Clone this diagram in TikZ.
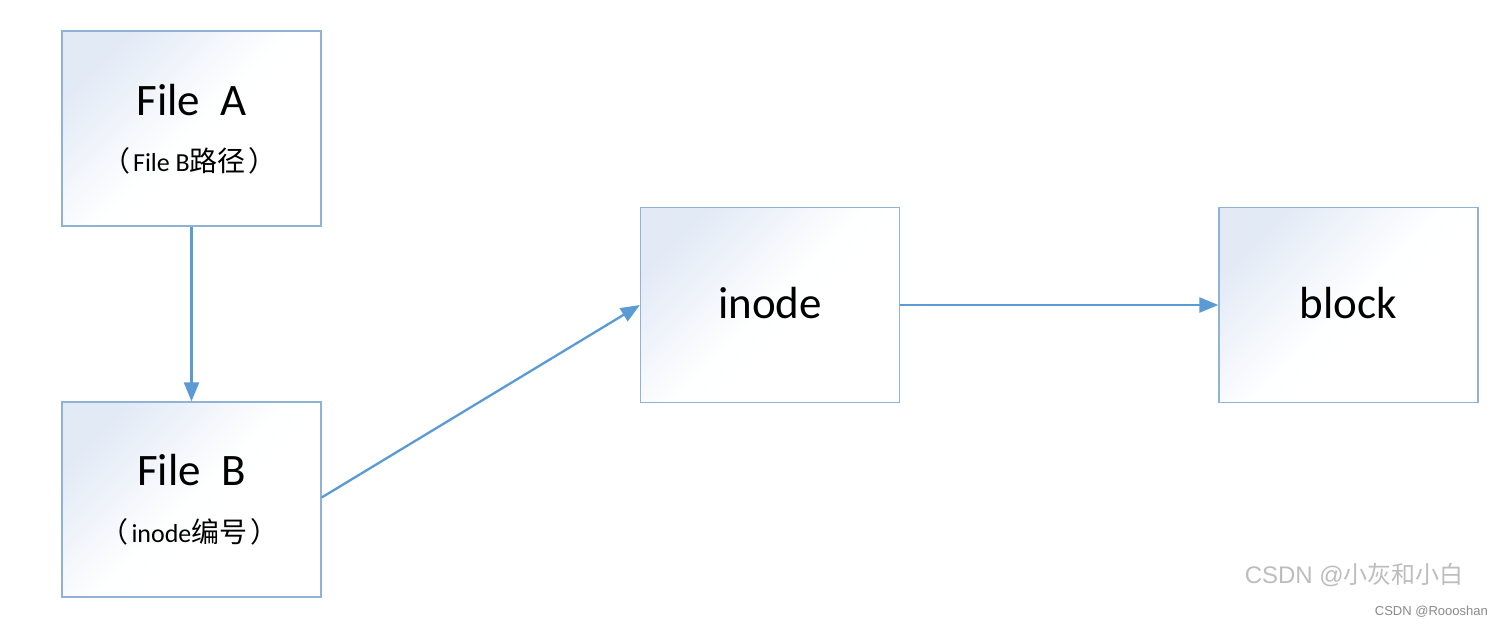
\documentclass[tikz,border=0pt]{standalone}
\usepackage{fontspec}
\setmainfont{Carlito}
\newfontfamily\cjkfont{Noto Sans CJK SC}
\newfontfamily\wmfont{Liberation Sans}
\usetikzlibrary{arrows.meta}
\definecolor{boxborder}{HTML}{8FB2D5}
\definecolor{boxfill}{HTML}{E2EAF6}
\definecolor{arrowblue}{HTML}{5B9BD5}
\definecolor{wmgray}{HTML}{BDBDBD}
\definecolor{wmdark}{HTML}{8A8A8A}
\newcommand{\cjktext}[1]{{\cjkfont\fontsize{28}{30}\selectfont #1}}
\tikzset{
  x=1pt, y=1pt,
  fbox/.style={draw=boxborder, line width=1.3pt, minimum width=259pt, minimum height=195pt,
    inner sep=0pt, top color=boxfill, bottom color=white, middle color=white!98!boxfill, shading angle=45},
  titletxt/.style={anchor=base, inner sep=0pt, font=\fontsize{45}{50}\selectfont},
  subtxt/.style={anchor=base, inner sep=0pt, font=\fontsize{26}{30}\selectfont},
  conn/.style={draw=arrowblue, line width=2.3pt, -{Triangle[length=19pt,width=15pt]}},
}
\begin{document}
\begin{tikzpicture}
\useasboundingbox (0,0) rectangle (1502,-626);
\fill[white] (0,0) rectangle (1502,-626);

\node[fbox] (fa) at (191.5,-128.5) {};
\node[fbox] (fb) at (191.5,-499.5) {};
\node[fbox] (in) at (770,-305) {};
\node[fbox] (bl) at (1348.5,-305) {};

\node[titletxt] (fat) at ([yshift=13.5pt]fa.center) {File\ \ A};
\node[subtxt] (fas) at ([xshift=-2pt,yshift=-43pt]fa.center) {\cjktext{（}\kern3pt File B\cjktext{路径\kern3pt）}};
\node[titletxt] (fbt) at ([yshift=14.5pt]fb.center) {File\ \ B};
\node[subtxt] (fbs) at ([xshift=-2pt,yshift=-42.5pt]fb.center) {\cjktext{（}\kern3pt inode\cjktext{编号\kern3pt）}};
\node[titletxt] (int) at ([yshift=-13pt]in.center) {inode};
\node[titletxt] (blt) at ([yshift=-13pt]bl.center) {block};

\draw[conn] (fa.south) -- (fb.north);
\draw[conn] ([yshift=2pt]fb.east) -- (in.west);
\draw[conn] (in.east) -- (bl.west);

\node[anchor=base east, inner sep=0pt, text=wmgray, font=\fontsize{24}{26}\selectfont] (wm1) at (1464,-583) {{\wmfont CSDN @}{\cjkfont 小灰和小白}};
\node[anchor=base east, inner sep=0pt, text=wmdark, font=\wmfont\fontsize{13}{15}\selectfont] (wm2) at (1488,-615) {CSDN @Roooshan};
\end{tikzpicture}
\end{document}
